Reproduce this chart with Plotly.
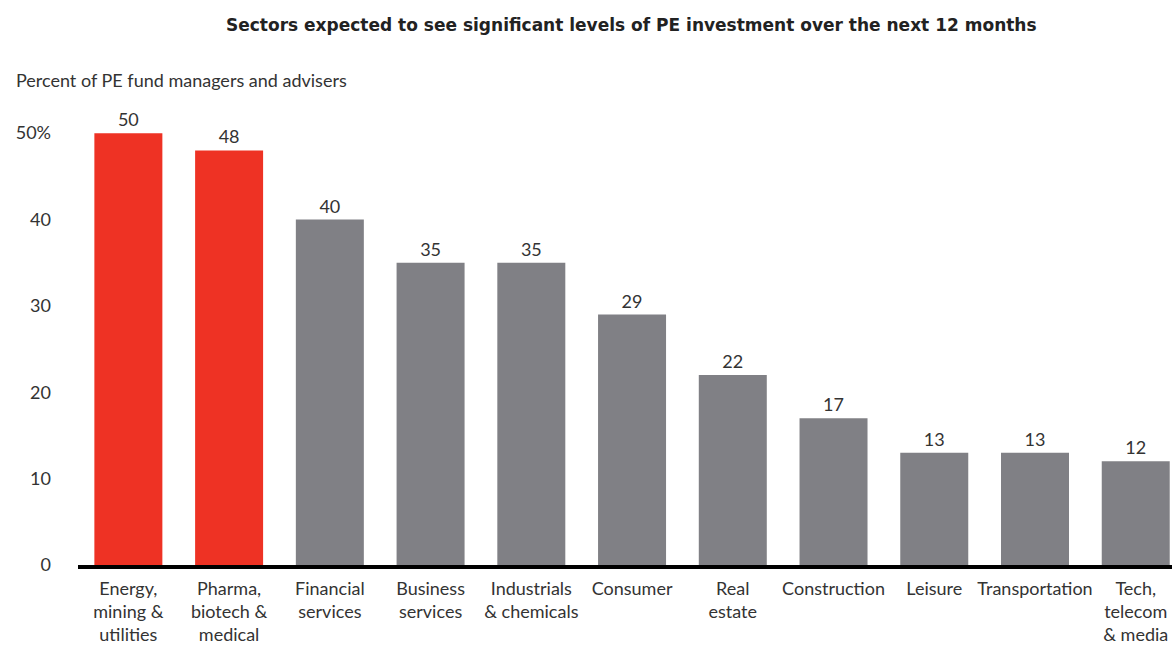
import plotly.graph_objects as go

categories = ["Energy,<br>mining &<br>utilities", "Pharma,<br>biotech &<br>medical",
              "Financial<br>services", "Business<br>services", "Industrials<br>& chemicals",
              "Consumer", "Real<br>estate", "Construction", "Leisure",
              "Transportation", "Tech,<br>telecom<br>& media"]
values = [50, 48, 40, 35, 35, 29, 22, 17, 13, 13, 12]
highlight = [True, True, False, False, False, False, False, False, False, False, False]
tick_vals = [0, 10, 20, 30, 40, 50]
tick_text = ["0", "10", "20", "30", "40", "50%"]

RED = "#EE3224"
GRAY = "#808085"
FONT = "Lato"

W, H = 1172, 645
L, T = 78, 90
B = H - 568

fig = go.Figure()
fig.add_trace(go.Bar(
    x=list(range(len(categories))), y=values,
    marker=dict(color=[RED if h else GRAY for h in highlight], line=dict(width=0)),
    width=0.675,
    text=[str(v) for v in values], textposition="outside",
    textfont=dict(family=FONT, size=18, color="#333333"),
    cliponaxis=False,
))

fig.update_layout(
    width=W, height=H,
    margin=dict(l=L, r=0, t=T, b=B),
    plot_bgcolor="white", paper_bgcolor="white",
    showlegend=False,
    font=dict(family=FONT, size=18, color="#333333"),
    xaxis=dict(
        tickmode="array", tickvals=list(range(len(categories))), ticktext=categories,
        range=[-0.5, 10.36], showgrid=False, zeroline=False,
        showline=True, linecolor="black", linewidth=4,
        ticks="", ticklabelstandoff=4,
        tickfont=dict(family=FONT, size=18, color="#333333"),
    ),
    yaxis=dict(
        range=[0, 55], tickmode="array", tickvals=tick_vals, ticktext=tick_text,
        showgrid=False, zeroline=False, showline=False, ticks="",
        ticklabelstandoff=26,
        tickfont=dict(family=FONT, size=18, color="#333333"),
    ),
)
pw = W - L
ph = H - T - B


def px_x(x):
    return (x - L) / pw


def px_y(y):
    return (H - B - y) / ph


fig.add_annotation(
    text="<b>Sectors expected to see significant levels of PE investment over the next 12 months</b>",
    xref="paper", yref="paper", x=px_x(632), y=px_y(25), xanchor="center", yanchor="middle",
    showarrow=False, font=dict(family="DejaVu Sans", size=17, color="#222222"))
fig.add_annotation(
    text="Percent of PE fund managers and advisers", xref="paper", yref="paper",
    x=px_x(14), y=px_y(80), xanchor="left", yanchor="middle",
    showarrow=False, font=dict(family=FONT, size=18, color="#333333"))

fig.write_html("out.html", config={"displayModeBar": False},
               post_script="document.body.style.margin='0';document.body.style.overflow='hidden';")
